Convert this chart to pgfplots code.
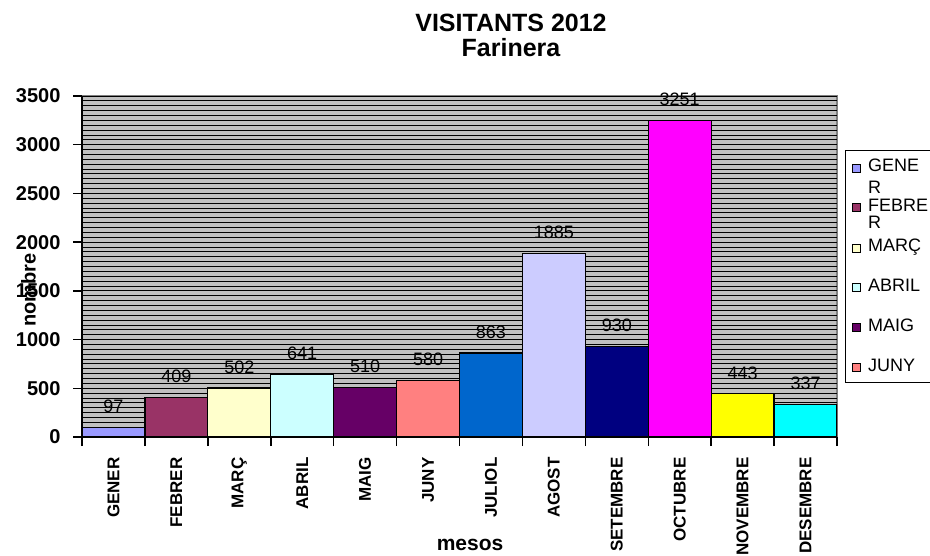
\documentclass[border=0pt]{standalone}
\usepackage{pgfplots}
\pgfplotsset{compat=1.18}
\usepackage{fontspec}
\setmainfont{Liberation Sans}

\definecolor{plotbg}{HTML}{C0C0C0}
\definecolor{cGen}{HTML}{9999FF}
\definecolor{cFeb}{HTML}{993366}
\definecolor{cMar}{HTML}{FFFFCC}
\definecolor{cAbr}{HTML}{CCFFFF}
\definecolor{cMai}{HTML}{660066}
\definecolor{cJun}{HTML}{FF8080}
\definecolor{cJul}{HTML}{0066CC}
\definecolor{cAgo}{HTML}{CCCCFF}
\definecolor{cSet}{HTML}{000080}
\definecolor{cOct}{HTML}{FF00FF}
\definecolor{cNov}{HTML}{FFFF00}
\definecolor{cDes}{HTML}{00FFFF}

% legend cells: wrapped names as Excel shows them
\newcommand{\twoline}[3]{\parbox[t]{70pt}{\baselineskip=#3pt #1\\#2}}

\begin{document}
\begin{tikzpicture}[x=1pt,y=1pt]
\begin{axis}[
    at={(82pt,118pt)}, anchor=south west,
    width=755pt, height=341pt, scale only axis,
    xmin=-0.5, xmax=11.5, ymin=0, ymax=3500,
    ybar, bar width=1, bar shift=0pt,
    /pgf/number format/.cd, 1000 sep={}, assume math mode=true, /pgfplots/.cd,
    axis x line*=bottom, axis y line*=left,
    x axis line style={line width=2.5pt, -},
    y axis line style={line width=1.5pt, -},
    axis background/.style={fill=plotbg, draw=gray, line width=2pt},
    xtick={-0.5,0.5,...,11.5},
    xticklabels={GENER,FEBRER,MARÇ,ABRIL,MAIG,JUNY,JULIOL,AGOST,SETEMBRE,OCTUBRE,NOVEMBRE,DESEMBRE},
    x tick label as interval,
    xticklabel style={rotate=90, anchor=east, font=\bfseries\fontsize{17}{18}\selectfont},
    xticklabel shift=8pt,
    ytick={0,500,...,3500},
    minor y tick num=9,
    yticklabel style={font=\bfseries\fontsize{20}{22}\selectfont},
    yticklabel shift=9pt,
    tick align=outside,
    major tick length=9pt, minor tick length=0pt,
    tick style={black, line width=1.5pt},
    ymajorgrids, yminorgrids,
    major grid style={black, line width=0.9pt},
    minor grid style={black, line width=0.9pt},
    ylabel={nombre},
    ylabel style={font=\bfseries\fontsize{20}{22}\selectfont, at={(axis description cs:-0.071,0.431)}, anchor=center},
    xlabel={mesos},
    xlabel style={font=\bfseries\fontsize{21}{22}\selectfont, at={(axis description cs:0.514,-0.316)}, anchor=center},
    nodes near coords,
    every node near coord/.append style={font=\fontsize{18}{20}\selectfont, black, anchor=south, inner sep=0pt, yshift=14pt},
    area legend,
    legend image code/.code={\draw[#1, draw=black, line width=0.8pt] (0pt,0pt) rectangle (8pt,8pt);},
    legend entries={
        {\twoline{GENE}{R}{22}},
        {\twoline{FEBRE}{R}{17}},
        MARÇ, ABRIL, MAIG, JUNY},
    legend style={at={(axis description cs:1.0106,0.8416)}, anchor=north west,
        draw=black, line width=0.8pt, fill=white,
        font=\fontsize{18}{20}\selectfont,
        row sep=22pt, column sep=5pt, inner xsep=7pt, inner ysep=7pt,
        cells={anchor=base west, inner sep=0pt}},
    every axis plot/.append style={draw=black, line width=1.2pt},
]
\addplot[fill=cGen] coordinates {(0,97)};
\addplot[fill=cFeb] coordinates {(1,409)};
\addplot[fill=cMar] coordinates {(2,502)};
\addplot[fill=cAbr] coordinates {(3,641)};
\addplot[fill=cMai] coordinates {(4,510)};
\addplot[fill=cJun] coordinates {(5,580)};
\addplot[fill=cJul] coordinates {(6,863)};
\addplot[fill=cAgo] coordinates {(7,1885)};
\addplot[fill=cSet] coordinates {(8,930)};
\addplot[fill=cOct] coordinates {(9,3251)};
\addplot[fill=cNov] coordinates {(10,443)};
\addplot[fill=cDes] coordinates {(11,337)};
\end{axis}
\node[font=\bfseries\fontsize{25}{25}\selectfont, align=center] at (511,520) {VISITANTS 2012\\Farinera};
\pgfresetboundingbox
\path (0,0) rectangle (930,555);
\end{tikzpicture}
\end{document}
